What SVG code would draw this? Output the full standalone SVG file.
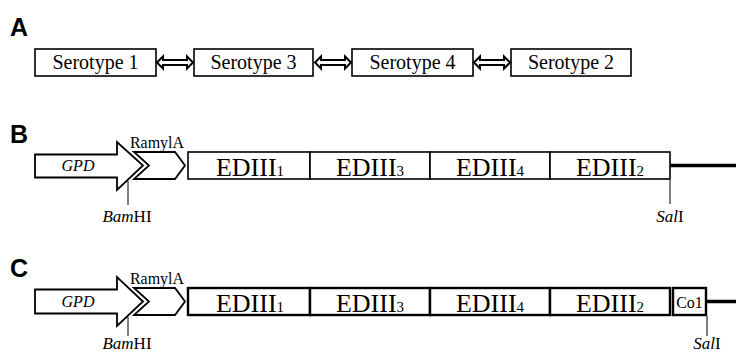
<svg xmlns="http://www.w3.org/2000/svg" width="736" height="354" viewBox="0 0 736 354">
<style>
.lbl{font-family:"Liberation Sans",Arial,sans-serif;font-weight:bold;font-size:25px;fill:#000}
.ser{font-family:"Liberation Serif","Times New Roman",serif;font-size:20px;fill:#000}
.box{fill:#fff;stroke:#000;stroke-width:1.6}
.boxc{fill:#fff;stroke:#000;stroke-width:2.4}
.arr{fill:#fff;stroke:#000;stroke-width:1.8;stroke-linejoin:miter}
.dbl{fill:#fff;stroke:#000;stroke-width:2;stroke-linejoin:miter}
.ed{font-family:"Liberation Serif","Times New Roman",serif;font-size:26px;fill:#000}
.sub{font-size:15px}
.sm{font-family:"Liberation Serif","Times New Roman",serif;font-size:16px;fill:#000}
.site{font-family:"Liberation Serif","Times New Roman",serif;font-size:17px;fill:#000}
.tick{stroke:#000;stroke-width:1}
.thick{stroke:#000;stroke-width:3.5}
</style>
<defs>
<path id="dblarrow" d="M0,0 L6,-6 L6,-2.5 L30,-2.5 L30,-6 L36,0 L30,6 L30,2.5 L6,2.5 L6,6 Z"/>
</defs>

<g id="panelA">
<text class="lbl" x="10" y="36">A</text>
<g id="s1"><rect class="box" x="35" y="49" width="121" height="27"/><text class="ser" x="95.5" y="69" text-anchor="middle">Serotype 1</text></g>
<g id="s3"><rect class="box" x="194" y="49" width="119" height="27"/><text class="ser" x="253.5" y="69" text-anchor="middle">Serotype 3</text></g>
<g id="s4"><rect class="box" x="352" y="49" width="121" height="27"/><text class="ser" x="412.5" y="69" text-anchor="middle">Serotype 4</text></g>
<g id="s2"><rect class="box" x="511" y="49" width="120" height="27"/><text class="ser" x="571" y="69" text-anchor="middle">Serotype 2</text></g>
<g id="connectorsA">
<use href="#dblarrow" class="dbl" x="157" y="62.5"/>
<use href="#dblarrow" class="dbl" x="315" y="62.5"/>
<use href="#dblarrow" class="dbl" x="474" y="62.5"/>
</g>
</g>

<g id="panelB">
<text class="lbl" x="10" y="143">B</text>
<g id="b-ramyl"><path class="arr" d="M134,152 L175,152 L185,165.5 L175,179 L134,179 L149,165.5 Z"/><text class="sm" x="157" y="148" text-anchor="middle">RamylA</text></g>
<g id="b-gpd"><path class="arr" d="M35,154.5 L117,154.5 L117,142 L143,165.5 L117,190 L117,177.5 L35,177.5 Z"/><text class="sm" x="78" y="171" text-anchor="middle" font-style="italic" font-size="19">GPD</text></g>
<g id="b-ed1"><rect class="box" x="188" y="152" width="122" height="27"/><text class="ed" x="250" y="176" text-anchor="middle">EDIII<tspan class="sub">1</tspan></text></g>
<g id="b-ed3"><rect class="box" x="310" y="152" width="120" height="27"/><text class="ed" x="370" y="176" text-anchor="middle">EDIII<tspan class="sub">3</tspan></text></g>
<g id="b-ed4"><rect class="box" x="430" y="152" width="120" height="27"/><text class="ed" x="490" y="176" text-anchor="middle">EDIII<tspan class="sub">4</tspan></text></g>
<g id="b-ed2"><rect class="box" x="550" y="152" width="120" height="27"/><text class="ed" x="610" y="176" text-anchor="middle">EDIII<tspan class="sub">2</tspan></text></g>
<g id="b-sites">
<line class="thick" x1="670" y1="165.5" x2="736" y2="165.5"/>
<line class="tick" x1="128" y1="181" x2="128" y2="205"/>
<text class="site" x="127" y="222" text-anchor="middle"><tspan font-style="italic">Bam</tspan>HI</text>
<line class="tick" x1="670" y1="180" x2="670" y2="204"/>
<text class="site" x="670" y="222" text-anchor="middle"><tspan font-style="italic">Sal</tspan>I</text>
</g>
</g>

<g id="panelC">
<text class="lbl" x="10" y="277">C</text>
<g id="c-ramyl"><path class="arr" d="M134,288 L175,288 L185,301.5 L175,315 L134,315 L149,301.5 Z"/><text class="sm" x="157" y="284" text-anchor="middle">RamylA</text></g>
<g id="c-gpd"><path class="arr" d="M35,289.5 L117,289.5 L117,277 L143,301.5 L117,326 L117,313.5 L35,313.5 Z"/><text class="sm" x="78" y="307" text-anchor="middle" font-style="italic" font-size="19">GPD</text></g>
<g id="c-ed1"><rect class="boxc" x="188" y="288" width="122" height="27"/><text class="ed" x="250" y="312" text-anchor="middle">EDIII<tspan class="sub">1</tspan></text></g>
<g id="c-ed3"><rect class="boxc" x="310" y="288" width="120" height="27"/><text class="ed" x="370" y="312" text-anchor="middle">EDIII<tspan class="sub">3</tspan></text></g>
<g id="c-ed4"><rect class="boxc" x="430" y="288" width="120" height="27"/><text class="ed" x="490" y="312" text-anchor="middle">EDIII<tspan class="sub">4</tspan></text></g>
<g id="c-ed2"><rect class="boxc" x="550" y="288" width="120" height="27"/><text class="ed" x="610" y="312" text-anchor="middle">EDIII<tspan class="sub">2</tspan></text></g>
<g id="c-co1"><rect class="boxc" x="673" y="288" width="33" height="27"/><text class="sm" x="689.5" y="308" text-anchor="middle">Co1</text></g>
<g id="c-sites">
<line class="thick" x1="706" y1="301.5" x2="736" y2="301.5"/>
<line class="tick" x1="128" y1="317" x2="128" y2="336"/>
<text class="site" x="127" y="349" text-anchor="middle" font-size="16"><tspan font-style="italic">Bam</tspan>HI</text>
<line class="tick" x1="707" y1="316" x2="707" y2="336"/>
<text class="site" x="707" y="349" text-anchor="middle" font-size="16"><tspan font-style="italic">Sal</tspan>I</text>
</g>
</g>
</svg>
